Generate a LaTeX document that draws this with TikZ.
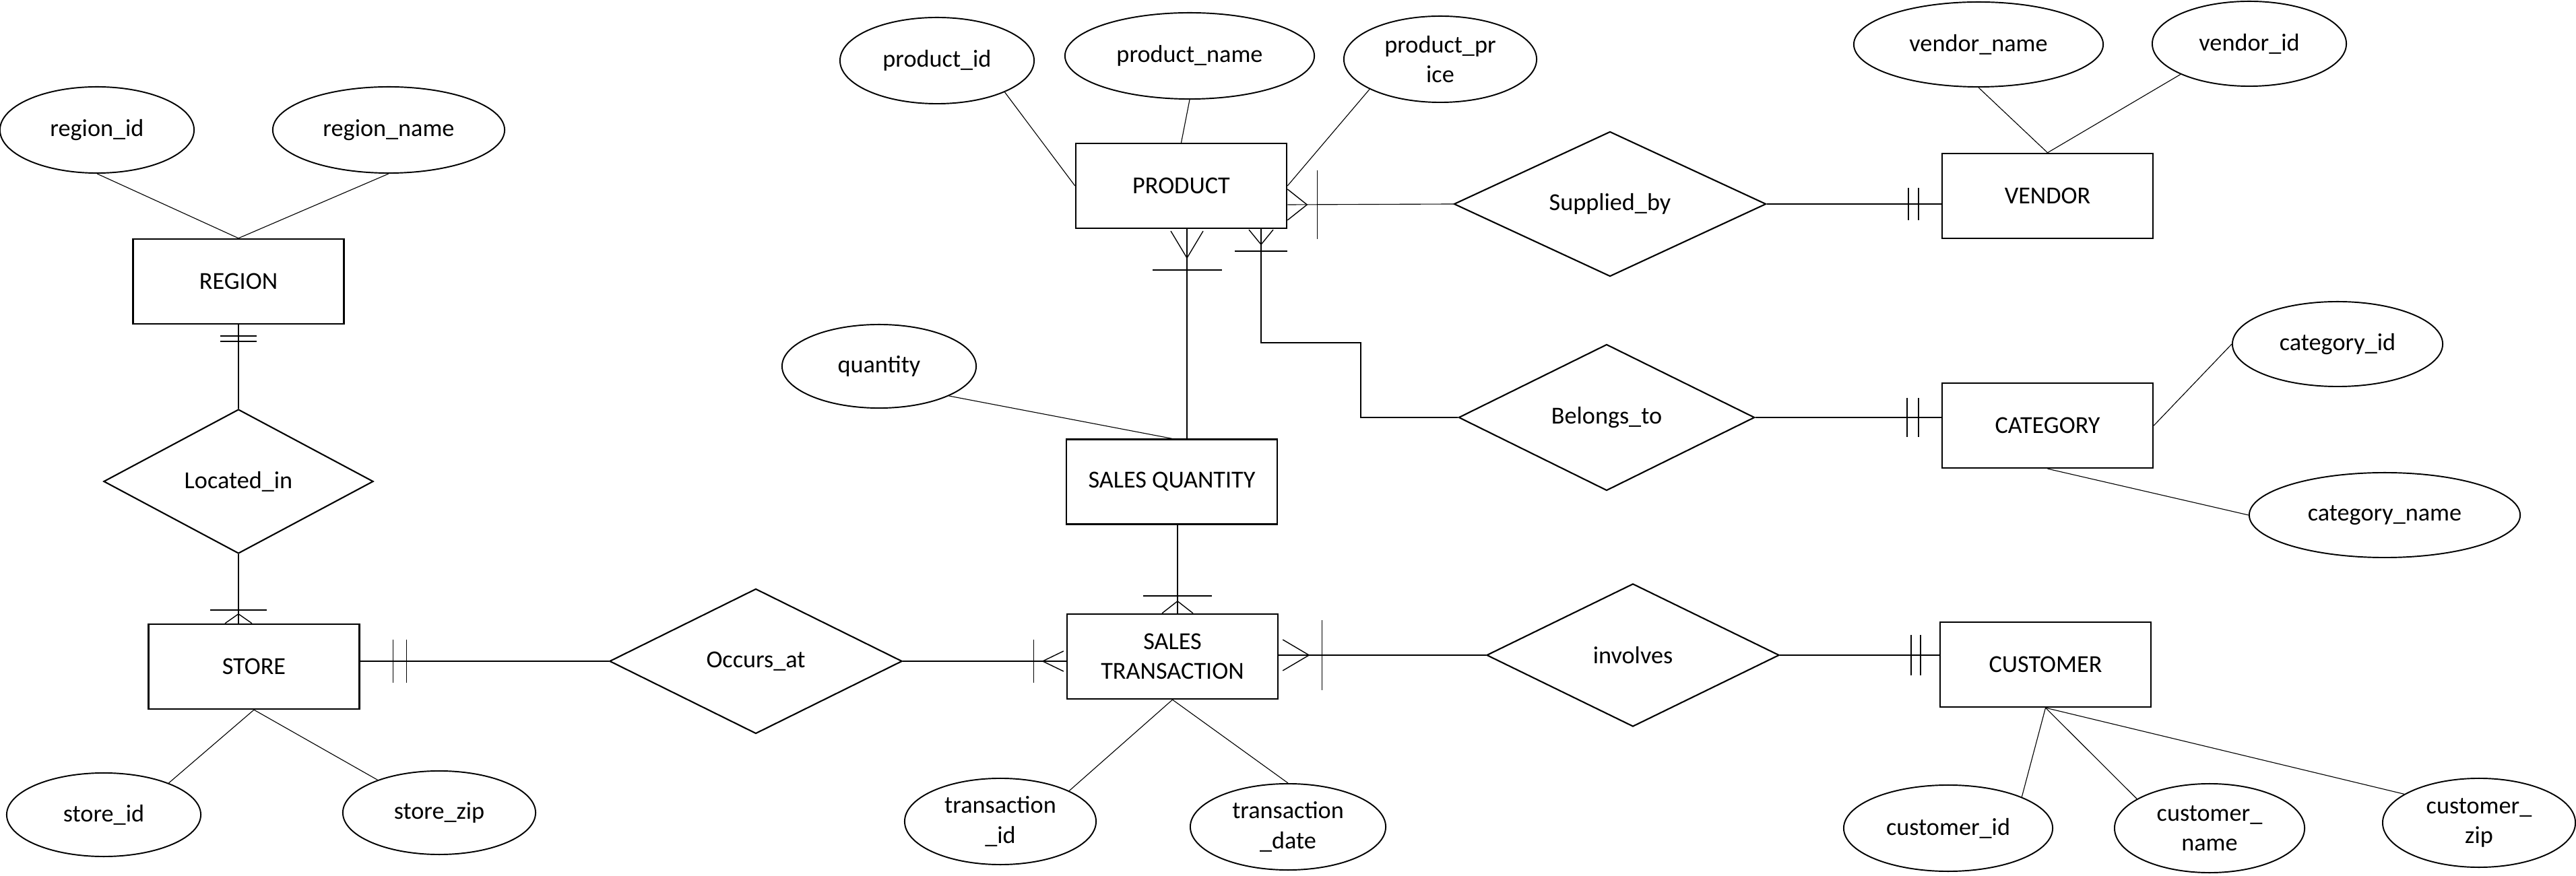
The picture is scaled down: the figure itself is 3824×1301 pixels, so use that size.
\documentclass[tikz,border=0pt]{standalone}
\usepackage{fontspec}
\setmainfont{Carlito}
\usetikzlibrary{shapes.geometric,calc}
\begin{document}
\begin{tikzpicture}[x=0.01cm,y=-0.01cm,
  font=\fontsize{10.3}{12.6}\selectfont,
  ent/.style={draw, line width=0.65pt, minimum width=3.13cm, minimum height=1.26cm, inner sep=0pt, align=center},
  attr/.style={ellipse, draw, line width=0.55pt, inner sep=0pt, align=center},
  rel/.style={diamond, draw, line width=0.6pt, inner sep=0pt},
  conn/.style={line width=0.32pt},
  sym/.style={line width=0.4pt}]
\useasboundingbox (0,0) rectangle (3824,1301);
% entities
\node[ent] (region) at (354,418) {REGION};
\node[ent] (store) at (377,990) {STORE};
\node[ent] (prod) at (1753.5,276) {PRODUCT};
\node[ent] (sq) at (1739.5,715.5) {SALES QUANTITY};
\node[ent] (st) at (1740.5,975) {SALES\\TRANSACTION};
\node[ent] (vendor) at (3039.5,291) {VENDOR};
\node[ent] (cat) at (3039.5,632) {CATEGORY};
\node[ent] (cust) at (3036.5,987) {CUSTOMER};
% attributes
\node[attr, minimum width=2.88cm, minimum height=1.28cm] (rid) at (144,193) {region\_id};
\node[attr, minimum width=3.44cm, minimum height=1.28cm] (rname) at (577,193) {region\_name};
\node[attr, minimum width=2.88cm, minimum height=1.28cm] (pid) at (1391,90) {product\_id};
\node[attr, minimum width=3.70cm, minimum height=1.28cm] (pname) at (1766,83) {product\_name};
\node[attr, minimum width=2.86cm, minimum height=1.28cm] (pprice) at (2138,88) {product\_pr\\ice};
\node[attr, minimum width=3.70cm, minimum height=1.26cm] (vname) at (2937,66) {vendor\_name};
\node[attr, minimum width=2.88cm, minimum height=1.26cm] (vid) at (3339,65) {vendor\_id};
\node[attr, minimum width=2.88cm, minimum height=1.24cm] (qty) at (1305,544) {quantity};
\node[attr, minimum width=3.12cm, minimum height=1.26cm] (catid) at (3470,511) {category\_id};
\node[attr, minimum width=4.02cm, minimum height=1.26cm] (catname) at (3540,765) {category\_name};
\node[attr, minimum width=2.88cm, minimum height=1.24cm] (sid) at (154,1210) {store\_id};
\node[attr, minimum width=2.86cm, minimum height=1.24cm] (szip) at (652,1207) {store\_zip};
\node[attr, minimum width=2.84cm, minimum height=1.28cm] (tid) at (1485,1220) {transaction\\\_id};
\node[attr, minimum width=2.90cm, minimum height=1.28cm] (tdate) at (1912,1228) {transaction\\\_date};
\node[attr, minimum width=3.10cm, minimum height=1.28cm] (cid) at (2892,1230) {customer\_id};
\node[attr, minimum width=2.82cm, minimum height=1.32cm] (cname) at (3280,1230) {customer\_\\name};
\node[attr, minimum width=2.86cm, minimum height=1.32cm] (czip) at (3680,1222) {customer\_\\zip};
% relationships
\node[rel, minimum width=4.00cm, minimum height=2.14cm] (loc) at (354,715) {Located\_in};
\node[rel, minimum width=4.34cm, minimum height=2.15cm] (occ) at (1122,982) {Occurs\_at};
\node[rel, minimum width=4.63cm, minimum height=2.15cm] (sup) at (2390,303) {Supplied\_by};
\node[rel, minimum width=4.39cm, minimum height=2.17cm] (bel) at (2385,620) {Belongs\_to};
\node[rel, minimum width=4.34cm, minimum height=2.12cm] (inv) at (2424,973) {involves};
% attribute links
\draw[conn] (rid.south) -- (region.north);
\draw[conn] (rname.south) -- (region.north);
\draw[conn] (store.south) -- (sid.26);
\draw[conn] (store.south) -- (szip.152);
\draw[conn] (pid.-25) -- (prod.west);
\draw[conn] (pname.south) -- (prod.north);
\draw[conn] (pprice.203) -- (prod.east);
\draw[conn] (vname.south) -- (vendor.north);
\draw[conn] (vid.204) -- (vendor.north);
\draw[conn] (catid.west) -- (cat.east);
\draw[conn] (cat.south) -- (catname.west);
\draw[conn] (qty.-23) -- (sq.north);
\draw[conn] (st.south) -- (tid.24);
\draw[conn] (st.south) -- (tdate.north);
\draw[conn] (cust.south) -- (cid.23);
\draw[conn] (cust.south) -- (cname.158);
\draw[conn] (cust.south) -- (czip.159);
% relationship links
\coordinate (rs) at (region.south);
\draw[conn] (rs) -- (loc.north);
\coordinate (sn) at (loc.south |- store.north);
\draw[conn] (loc.south) -- (sn);
\coordinate (se) at (store.east |- occ.west);
\draw[conn] (se) -- (occ.west);
\coordinate (stw) at (st.west |- occ.east);
\draw[conn] (occ.east) -- (stw);
\coordinate (pe) at ($(prod.east)+(0,28)$);
\draw[conn] (pe) -- (sup.west);
\coordinate (vw) at (vendor.west |- sup.east);
\draw[conn] (sup.east) -- (vw);
\coordinate (ps1) at ($(prod.south)+(8.5,0)$);
\draw[conn] (ps1) -- (ps1 |- sq.north);
\coordinate (ps2) at ($(prod.south)+(118.5,0)$);
\coordinate (b1) at (2020,509);
\draw[conn] (ps2) |- (b1) |- (bel.west);
\coordinate (cw) at (cat.west |- bel.east);
\draw[conn] (bel.east) -- (cw);
\coordinate (stn) at ($(st.north)+(7.5,0)$);
\draw[conn] (stn |- sq.south) -- (stn);
\coordinate (ste) at ($(st.east)+(0,-2)$);
\draw[conn] (ste) -- (inv.west);
\coordinate (cuw) at (cust.west |- inv.east);
\draw[conn] (inv.east) -- (cuw);
% cardinality symbols
\draw[sym] ($(rs)+(-27,17)$) -- ($(rs)+(27,17)$);
\draw[sym] ($(rs)+(-27,25)$) -- ($(rs)+(27,25)$);
\draw[sym] ($(sn)+(-20,0)$) -- ($(sn)+(0,-14)$) -- ($(sn)+(20,0)$);
\draw[sym] ($(sn)+(-42,-20)$) -- ($(sn)+(42,-20)$);
\draw[sym] ($(se)+(49,-32)$) -- ($(se)+(49,32)$);
\draw[sym] ($(se)+(69,-32)$) -- ($(se)+(69,32)$);
\draw[sym] ($(stw)+(-4,-15)$) -- ($(stw)+(-35,0)$) -- ($(stw)+(-4,15)$);
\draw[sym] ($(stw)+(-48,-32)$) -- ($(stw)+(-48,32)$);
\draw[sym] ($(stn)+(-23,0)$) -- ($(stn)+(0,-18)$) -- ($(stn)+(23,0)$);
\draw[sym] ($(stn)+(-51,-26)$) -- ($(stn)+(51,-26)$);
\draw[sym] ($(ste)+(6,-23)$) -- ($(ste)+(45,0)$) -- ($(ste)+(6,23)$);
\draw[sym] ($(ste)+(64,-52)$) -- ($(ste)+(64,52)$);
\draw[sym] ($(pe)+(0,-23)$) -- ($(pe)+(29,0)$) -- ($(pe)+(0,23)$);
\draw[sym] ($(pe)+(44,-51)$) -- ($(pe)+(44,51)$);
\draw[sym] ($(ps1)+(-24,3)$) -- ($(ps1)+(0,43)$) -- ($(ps1)+(24,3)$);
\draw[sym] ($(ps1)+(-51,61)$) -- ($(ps1)+(52,61)$);
\draw[sym] ($(ps2)+(-18,1)$) -- ($(ps2)+(0,23)$) -- ($(ps2)+(18,1)$);
\draw[sym] ($(ps2)+(-39,33)$) -- ($(ps2)+(39,33)$);
\draw[sym] ($(vw)+(-49,-24)$) -- ($(vw)+(-49,24)$);
\draw[sym] ($(vw)+(-34,-24)$) -- ($(vw)+(-34,24)$);
\draw[sym] ($(cw)+(-51,-29)$) -- ($(cw)+(-51,29)$);
\draw[sym] ($(cw)+(-34,-29)$) -- ($(cw)+(-34,29)$);
\draw[sym] ($(cuw)+(-42,-30)$) -- ($(cuw)+(-42,30)$);
\draw[sym] ($(cuw)+(-28,-30)$) -- ($(cuw)+(-28,30)$);
\end{tikzpicture}
\end{document}
